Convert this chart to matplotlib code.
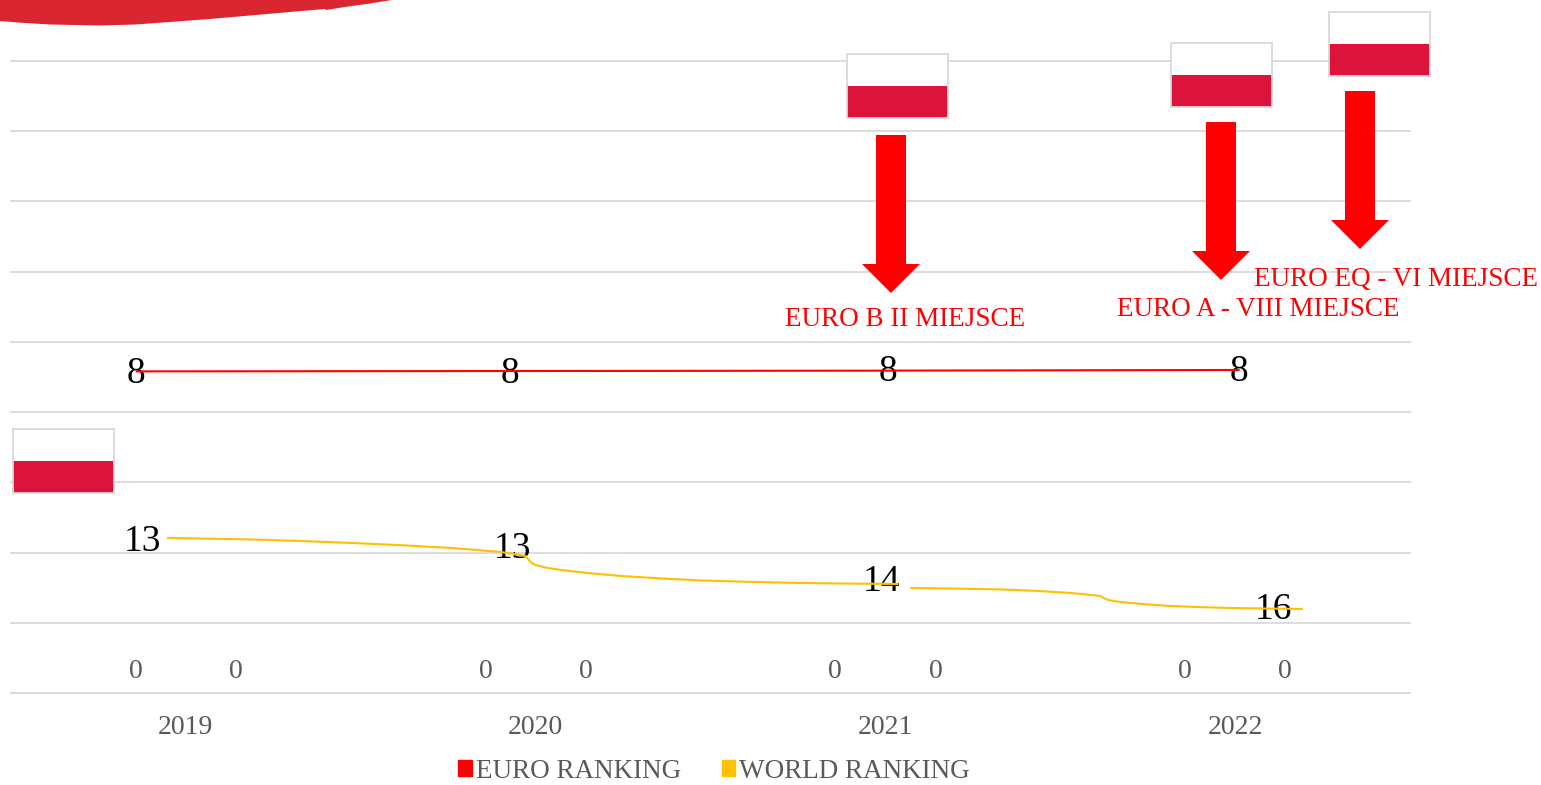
# Import Libraries
import matplotlib
matplotlib.use("Agg")
import matplotlib.pyplot as plt
from matplotlib.patches import Patch, Polygon, Rectangle

plt.rcParams["font.family"] = ["Liberation Serif", "DejaVu Serif"]

# Data
years = ["2019", "2020", "2021", "2022"]
year_pos = [0, 1, 2, 3]
zero_values = [0, 0, 0, 0]
zero_offset = 0.143

euro_x = [-0.14, 0.93, 1.93, 3.01]
euro_y = [4.58, 4.585, 4.59, 4.60]
euro_rank = [8, 8, 8, 8]
euro_label_y = [4.55, 4.55, 4.57, 4.57]
euro_label_x = [-0.143, 0.927, 2.006, 3.011]

world_x1 = [-0.051, 0.186, 0.329, 0.471, 0.614, 0.757, 0.9, 0.971, 0.983, 0.991, 1.0, 1.03, 1.071,
            1.157, 1.243, 1.357, 1.471, 1.614, 1.757, 1.9, 2.034]
world_y1 = [2.208, 2.187, 2.165, 2.137, 2.105, 2.066, 2.009, 1.952, 1.88, 1.845, 1.823, 1.785, 1.752,
            1.705, 1.667, 1.632, 1.603, 1.583, 1.567, 1.558, 1.553]
world_x2 = [2.074, 2.2, 2.329, 2.429, 2.529, 2.614, 2.625, 2.637, 2.671, 2.743, 2.814, 2.9, 2.986, 3.09, 3.191]
world_y2 = [1.496, 1.487, 1.475, 1.455, 1.425, 1.382, 1.35, 1.325, 1.296, 1.264, 1.239, 1.223, 1.211, 1.203, 1.197]
world_rank = [13, 13, 14, 16]
world_label_x = [-0.125, 0.934, 1.99, 3.11]
world_label_y = [2.15, 2.05, 1.59, 1.18]

notes = ["EURO B II MIEJSCE", "EURO A - VIII MIEJSCE", "EURO EQ - VI MIEJSCE"]
note_x = [905, 1258, 1396]
note_y = [319, 310, 279]

arrow_x = [891, 1221, 1360]
arrow_top = [135, 122, 91]
flag_x = [847, 1171, 1329, 13]
flag_y = [54, 43, 12, 429]

swoosh_x = [0, 0, 25, 50, 100, 135, 170, 210, 250, 290, 325, 326, 345, 370, 392]
swoosh_y = [0, 21, 23, 24.5, 25.5, 24.5, 22, 19, 15.5, 12, 9, 10, 7, 3.5, 0]

RED = "#ff0000"
YELLOW = "#ffc000"
GREY = "#595959"

fig = plt.figure(figsize=(15.41, 7.85), dpi=100)

# Chart area
ax = fig.add_axes([11 / 1541, 1 - 693 / 785, 1399 / 1541, 632 / 785])
ax.set_xlim(-0.5, 3.5)
ax.set_ylim(0, 9)
ax.set_yticks(range(10))
ax.set_yticklabels([])
ax.set_xticks(year_pos)
ax.set_xticklabels(years, fontsize=20, color=GREY)
ax.tick_params(length=0)
ax.tick_params(axis="x", pad=16)
ax.grid(axis="y", color="#d9d9d9", linewidth=1.3)
for line in ax.get_ygridlines():
    line.set_clip_on(False)
ax.set_axisbelow(True)
for s in ax.spines.values():
    s.set_visible(False)
ax.spines["bottom"].set_visible(True)
ax.spines["bottom"].set_color("#d9d9d9")
ax.spines["bottom"].set_linewidth(1.3)

# Lines
ax.plot(euro_x, euro_y, color=RED, linewidth=1.5, zorder=3)
ax.plot(world_x1, world_y1, color=YELLOW, linewidth=1.5, zorder=3)
ax.plot(world_x2, world_y2, color=YELLOW, linewidth=1.5, zorder=3)

# Data labels
for x, y, v in zip(euro_label_x, euro_label_y, euro_rank):
    ax.text(x, y, str(v), fontsize=27, ha="center", va="center", color="black", zorder=2)
for x, y, v in zip(world_label_x, world_label_y, world_rank):
    ax.text(x, y, str(v), fontsize=27, ha="center", va="center", color="black", zorder=2)
for x, v in zip(year_pos, zero_values):
    ax.text(x - zero_offset, v + 0.30, str(v), fontsize=20, ha="center", va="center", color=GREY)
    ax.text(x + zero_offset, v + 0.30, str(v), fontsize=20, ha="center", va="center", color=GREY)

# Overlay for flags and arrows
over = fig.add_axes([0, 0, 1, 1])
over.set_xlim(0, 1541)
over.set_ylim(785, 0)
over.axis("off")

for x, y in zip(flag_x, flag_y):
    over.add_patch(Rectangle((x, y), 101, 32, facecolor="white", edgecolor="none"))
    over.add_patch(Rectangle((x, y + 32), 101, 32, facecolor="#dc143c", edgecolor="none"))
    over.add_patch(Rectangle((x, y), 101, 64, facecolor="none", edgecolor="#d9d9d9", linewidth=1.3))

for x, top in zip(arrow_x, arrow_top):
    over.add_patch(Polygon([(x - 15, top), (x + 15, top), (x + 15, top + 129), (x + 29, top + 129),
                            (x, top + 158), (x - 29, top + 129), (x - 15, top + 129)],
                           facecolor=RED, edgecolor="none"))

for x, y, t in zip(note_x, note_y, notes):
    over.text(x, y, t, fontsize=19.5, color=RED, ha="center", va="center")

over.add_patch(Polygon(list(zip(swoosh_x, swoosh_y)), facecolor="#da2630", edgecolor="none"))

# Legend
handles = [Patch(color=RED, label="EURO RANKING"), Patch(color=YELLOW, label="WORLD RANKING")]
fig.legend(handles=handles, loc="center", bbox_to_anchor=(714 / 1541, 1 - 771 / 785), ncol=2,
           frameon=False, fontsize=19.5, labelcolor=GREY, handlelength=0.5, handleheight=0.5,
           handletextpad=0.15, columnspacing=1.5)

fig.savefig("out.png", dpi=100)
